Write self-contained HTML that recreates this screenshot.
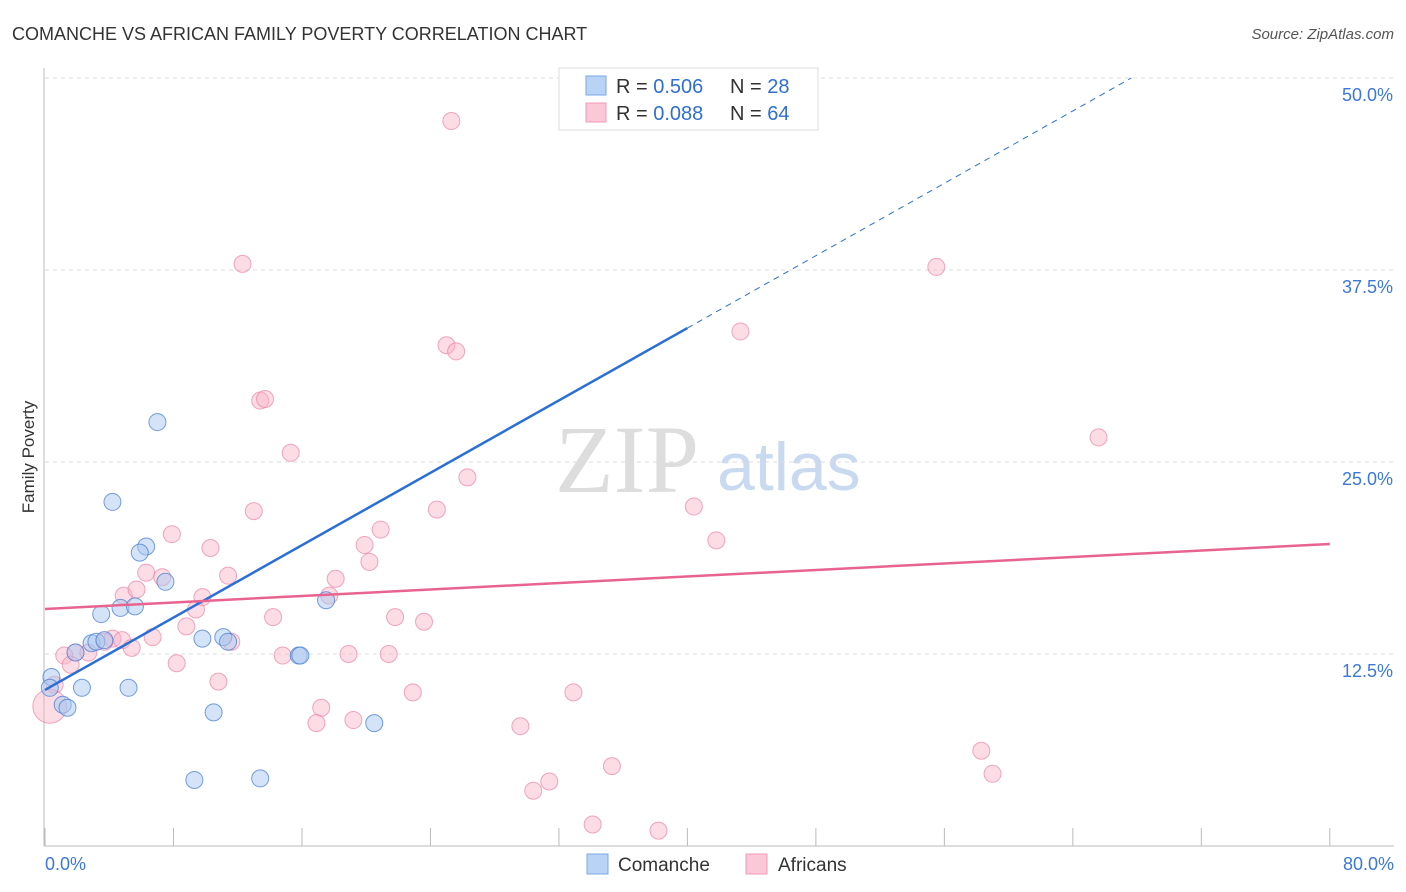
<!DOCTYPE html>
<html><head><meta charset="utf-8"><style>
body{margin:0;background:#fff;font-family:"Liberation Sans",sans-serif;}
svg{display:block}
</style></head><body>
<svg id="chart" width="1406" height="892">
<text x="12" y="40" font-size="18" fill="#333">COMANCHE VS AFRICAN FAMILY POVERTY CORRELATION CHART</text>
<text x="1394" y="39" font-size="15" fill="#555" font-style="italic" text-anchor="end">Source: ZipAtlas.com</text>
<text transform="translate(34,457) rotate(-90)" font-size="17" fill="#333" text-anchor="middle">Family Poverty</text>
<text x="555" y="492" font-size="96" fill="#ddd" font-family="Liberation Serif,serif">ZIP</text>
<text x="717" y="490" font-size="68" fill="#c9daf0">atlas</text>
<g id="grid"></g><g id="axes"></g><g id="pts"></g><g id="lines"></g>
<g>
<rect x="559" y="68" width="259" height="62" fill="#fff" stroke="#ddd"/>
<rect x="586" y="76" width="20" height="19" fill="#b8d3f5" stroke="#7aa8e6"/>
<rect x="586" y="103" width="20" height="19" fill="#fbc8d8" stroke="#f19ab6"/>
<text x="616" y="93" font-size="20" fill="#333">R = <tspan fill="#2f6fd0">0.506</tspan><tspan x="730">N = </tspan><tspan fill="#2f6fd0">28</tspan></text>
<text x="616" y="120" font-size="20" fill="#333">R = <tspan fill="#2f6fd0">0.088</tspan><tspan x="730">N = </tspan><tspan fill="#2f6fd0">64</tspan></text>
</g>
<g>
<rect x="587" y="854" width="21" height="20" fill="#b8d3f5" stroke="#7aa8e6"/>
<text x="618" y="871" font-size="19" fill="#333">Comanche</text>
<rect x="746" y="854" width="21" height="20" fill="#fbc8d8" stroke="#f19ab6"/>
<text x="778" y="871" font-size="19" fill="#333">Africans</text>
</g>
</svg>
<script>
const yTicks=[12.5,25,37.5,50];
const yTickLabels=["12.5%","25.0%","37.5%","50.0%"];
const xTickLabels=["0.0%","80.0%"];
const comancheX=[33.3,7.0,4.2,6.3,5.9,7.5,3.5,4.7,5.6,17.5,2.9,3.2,3.7,1.9,9.8,11.1,11.4,15.8,15.9,0.4,0.3,2.3,5.2,1.1,1.4,10.5,20.5,9.3,13.4];
const comancheY=[50.0,27.6,22.4,19.5,19.1,17.2,15.1,15.5,15.6,16.0,13.2,13.3,13.4,12.6,13.5,13.6,13.3,12.4,12.4,11.0,10.3,10.3,10.3,9.2,9.0,8.7,8.0,4.3,4.4];
const africansX=[25.3,12.3,55.5,43.3,25.0,25.6,13.4,13.7,15.3,65.6,26.3,40.4,24.4,13.0,20.9,41.8,7.9,10.3,19.9,20.2,6.3,11.4,7.3,18.1,17.7,9.8,4.9,5.7,9.4,21.8,14.2,23.6,8.8,6.7,4.2,3.7,4.8,11.6,1.9,1.2,2.7,5.4,1.6,14.8,18.9,21.4,8.2,10.8,22.9,32.9,0.6,17.2,19.2,16.9,29.6,58.3,59.0,35.3,31.4,30.4,34.1,38.2,0.3];
const africansY=[47.2,37.9,37.7,33.5,32.6,32.2,29.0,29.1,25.6,26.6,24.0,22.1,21.9,21.8,20.6,19.9,20.3,19.4,19.6,18.5,17.8,17.6,17.5,17.4,16.3,16.2,16.3,16.7,15.4,14.9,14.9,14.6,14.3,13.6,13.5,13.3,13.4,13.3,12.6,12.4,12.6,12.9,11.8,12.4,12.5,12.5,11.9,10.7,10.0,10.0,10.5,9.0,8.2,8.0,7.8,6.2,4.7,5.2,4.2,3.6,1.4,1.0,9.1];
const comancheTrend=[10.16,0.589];
const africansTrend=[15.43,0.0529];
const NS="http://www.w3.org/2000/svg";
const X=v=>45+v*16.06, Y=v=>846-v*15.36;
function mk(t,a,p){const e=document.createElementNS(NS,t);for(const k in a)e.setAttribute(k,a[k]);p.appendChild(e);return e;}
const grid=document.getElementById('grid'),axes=document.getElementById('axes'),pts=document.getElementById('pts'),lines=document.getElementById('lines');
yTicks.forEach((t,i)=>{
 const l=mk('line',{x1:45,x2:1394,y1:Y(t),y2:Y(t),stroke:'#ddd','stroke-dasharray':'4,4'},grid);
 
 
 const tx=mk('text',{x:1393,y:Y(t)+23,'font-size':18,fill:'#3b78d8','text-anchor':'end'},axes);
 tx.textContent=yTickLabels[i];
 
 
});
const ax=mk('line',{x1:44,x2:44,y1:68,y2:846,stroke:'#bbb'},axes);


const bx=mk('line',{x1:44,x2:1394,y1:846,y2:846,stroke:'#bbb'},axes);


for(let i=0;i<=10;i++){const t=mk('line',{x1:X(i*8),x2:X(i*8),y1:828,y2:846,stroke:'#bbb'},axes);
 
 }
[[0,'start',45],[1,'end',1394]].forEach(([i,a,x])=>{const t=mk('text',{x:x,y:870,'font-size':18,fill:'#3b78d8','text-anchor':a},axes);t.textContent=xTickLabels[i];
 
 });
africansX.forEach((v,i)=>{const c=mk('circle',{cx:X(v),cy:Y(africansY[i]),r:i==africansX.length-1?17:8.5,fill:'rgba(248,180,200,0.45)',stroke:'rgba(236,130,165,0.7)','stroke-width':1},pts);
 
 });
comancheX.forEach((v,i)=>{const c=mk('circle',{cx:X(v),cy:Y(comancheY[i]),r:8.5,fill:'rgba(170,200,240,0.5)',stroke:'rgba(60,120,210,0.7)','stroke-width':1},pts);
 
 });
const bl=mk('line',{x1:X(0),y1:Y(comancheTrend[0]),x2:X(40),y2:Y(comancheTrend[0]+40*comancheTrend[1]),stroke:'#2a6fd6','stroke-width':2.5},lines);


const xe=(50-comancheTrend[0])/comancheTrend[1];
const bd=mk('line',{x1:X(40),y1:Y(comancheTrend[0]+40*comancheTrend[1]),x2:X(xe),y2:Y(50),stroke:'#2a6fd6','stroke-width':1,'stroke-dasharray':'6,5'},lines);


const pl=mk('line',{x1:X(0),y1:Y(africansTrend[0]),x2:X(80),y2:Y(africansTrend[0]+80*africansTrend[1]),stroke:'#e8648f','stroke-width':2.5},lines);


</script>
</body></html>
